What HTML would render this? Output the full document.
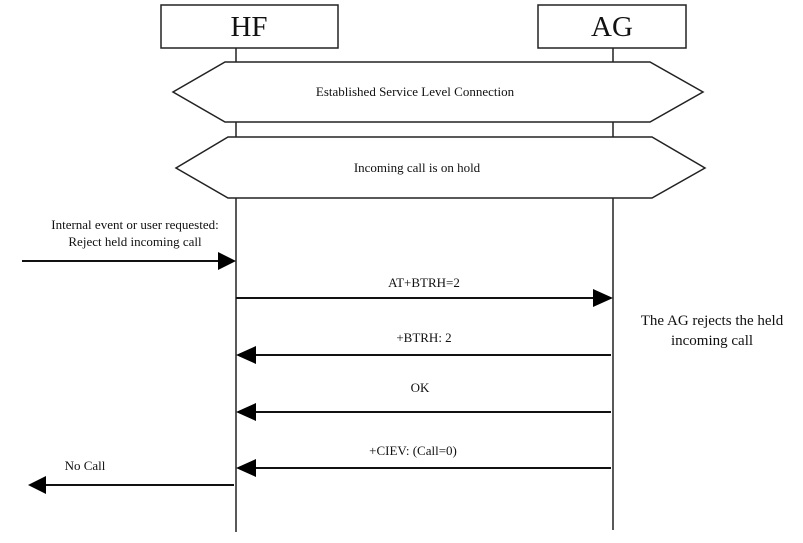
<!DOCTYPE html>
<html><head><style>body{margin:0;background:#fff}</style></head><body>
<svg width="803" height="538" xmlns="http://www.w3.org/2000/svg" font-family="Liberation Serif, serif" fill="#111">
<rect width="803" height="538" fill="#fff"/>
<g stroke="#222" stroke-width="1.5" fill="#fff">
<rect x="161" y="5" width="177" height="43"/>
<rect x="538" y="5" width="148" height="43"/>
<line x1="236" y1="48" x2="236" y2="532"/>
<line x1="613" y1="48" x2="613" y2="530"/>
<polygon points="225,62 650,62 703,92 650,122 225,122 173,92"/>
<polygon points="228,137 652,137 705,168 652,198 228,198 176,168"/>
</g>
<g stroke="#111" stroke-width="2">
<line x1="22" y1="261" x2="220" y2="261"/>
<line x1="236" y1="298" x2="596" y2="298"/>
<line x1="252" y1="355" x2="611" y2="355"/>
<line x1="252" y1="412" x2="611" y2="412"/>
<line x1="252" y1="468" x2="611" y2="468"/>
<line x1="44" y1="485" x2="234" y2="485"/>
</g>
<g fill="#000">
<polygon points="218,252 236,261 218,270"/>
<polygon points="593,289 613,298 593,307"/>
<polygon points="256,346 236,355 256,364"/>
<polygon points="256,403 236,412 256,421"/>
<polygon points="256,459 236,468 256,477"/>
<polygon points="46,476 28,485 46,494"/>
</g>
<text x="249" y="36" font-size="29" text-anchor="middle">HF</text>
<text x="612" y="36" font-size="29" text-anchor="middle">AG</text>
<g font-size="13" text-anchor="middle">
<text x="415" y="96">Established Service Level Connection</text>
<text x="417" y="172">Incoming call is on hold</text>
<text x="135" y="229">Internal event or user requested:</text>
<text x="135" y="246">Reject  held  incoming call</text>
<text x="424" y="287">AT+BTRH=2</text>
<text x="424" y="342">+BTRH: 2</text>
<text x="420" y="392">OK</text>
<text x="413" y="455">+CIEV: (Call=0)</text>
<text x="85" y="470">No Call</text>
</g>
<g font-size="15" text-anchor="middle">
<text x="712" y="325">The AG rejects the held</text>
<text x="712" y="345">incoming call</text>
</g>
</svg>
</body></html>
